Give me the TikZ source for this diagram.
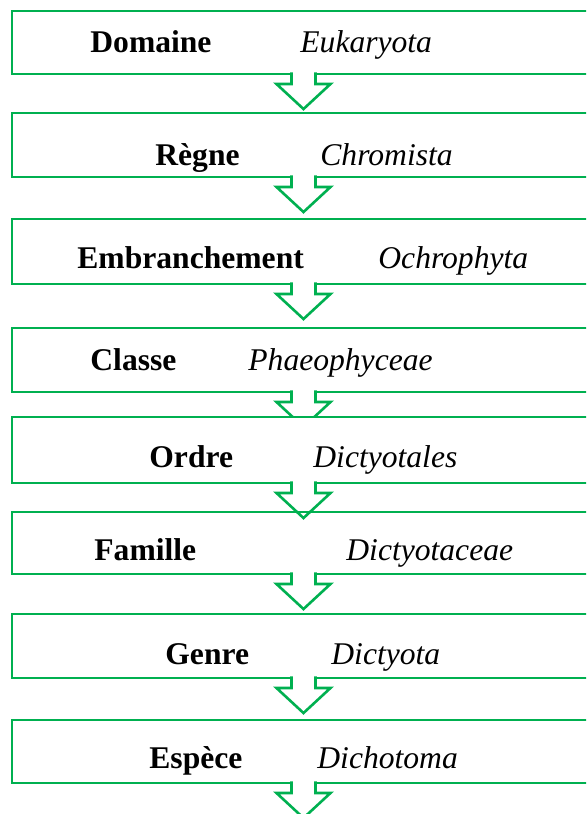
\documentclass[tikz,border=0pt]{standalone}
\usepackage{fontspec}
\setmainfont{Liberation Serif}
\definecolor{vertrang}{RGB}{0,176,80}
\tikzset{
  rang/.style={draw=vertrang, line width=1.3pt, inner sep=0pt, outer sep=0pt},
  fleche/.style={draw=vertrang, line width=1.3pt, line join=miter},
  nomrang/.style={anchor=base west, inner sep=0pt, font=\fontsize{15.8}{19}\selectfont\bfseries},
  nomtaxon/.style={anchor=base west, inner sep=0pt, font=\fontsize{15.8}{19}\selectfont\itshape},
}
\begin{document}
\begin{tikzpicture}[x=0.5pt,y=-0.5pt]
  % cadre de l'image
  \useasboundingbox (0,0) rectangle (586,814);
  \clip (0,0) rectangle (586,814);

  % une boite par rang
  \foreach \i/\haut/\bas/\rg/\xr/\yc/\tx/\xt in {
      1/11/74/Domaine/90/42/Eukaryota/300,
      2/113/177/Règne/155/155/Chromista/320,
      3/219/284/Embranchement/77/258/Ochrophyta/378,
      4/328/392/Classe/90/360/Phaeophyceae/248,
      5/417/483/Ordre/149/457/Dictyotales/313,
      6/512/574/Famille/94/550/Dictyotaceae/346,
      7/614/678/Genre/165/654/Dictyota/331,
      8/720/783/Espèce/149/758/Dichotoma/317}{
    \node[rang, minimum width=291.5pt, minimum height={(\bas-\haut)*0.5pt}]
      (b\i) at (303.5,{(\haut+\bas)/2}) {};
    \node[nomrang] (r\i) at (\xr,{\yc+10}) {\rg};
    \node[nomtaxon] (t\i) at (\xt,{\yc+10}) {\tx};
  }

  % fleches vers le rang suivant (la 4e passe sous la boite 5)
  \foreach \i/\fin in {1/814, 2/814, 3/814, 4/417, 5/814, 6/814, 7/814, 8/814}{
    \begin{scope}
      \clip (0,0) rectangle (586,\fin);
      \fill[white] ([xshift=-6pt,yshift=1pt]b\i.south) rectangle ([xshift=6pt,yshift=-1pt]b\i.south);
      \draw[fleche] ([xshift=-6pt,yshift=0.8pt]b\i.south) -- ++(0,11.6) -- ++(-15,0)
        -- ++(27,25) -- ++(27,-25) -- ++(-15,0) -- ++(0,-11.6);
    \end{scope}
  }
\end{tikzpicture}
\end{document}
